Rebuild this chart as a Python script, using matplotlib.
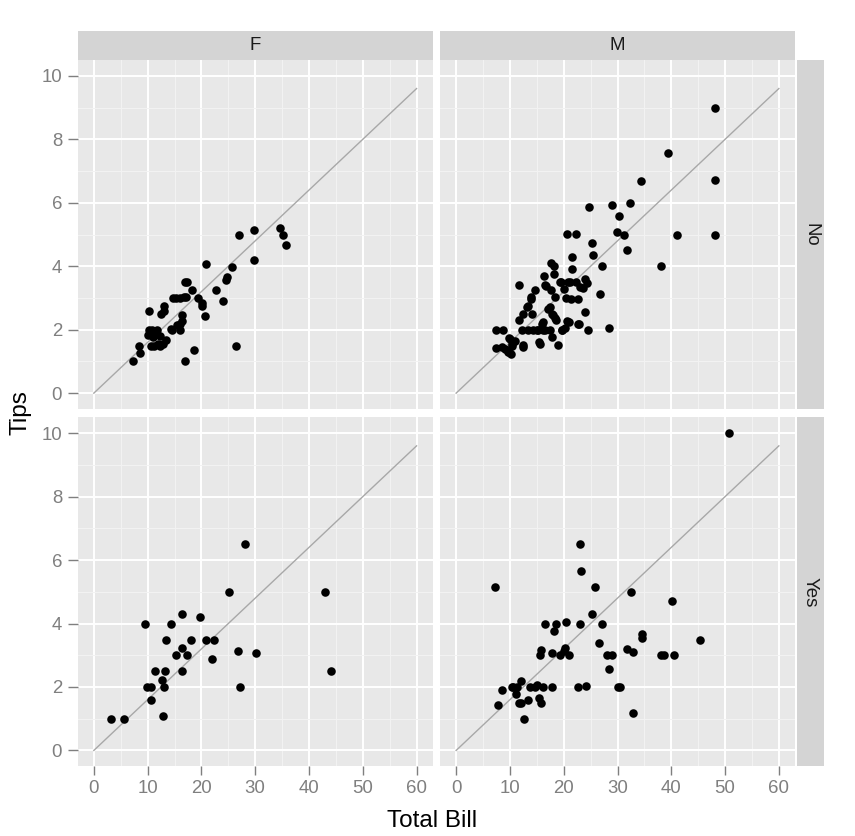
import matplotlib
matplotlib.use("Agg")
import matplotlib.pyplot as plt
import numpy as np

plt.rcParams['font.family'] = ['Liberation Sans', 'DejaVu Sans']

# tips: total bill / tip, per sex (column) and smoker (row)
f_no_bill = [7.25, 8.51, 8.35, 10.29, 10.07, 10.33, 10.80, 11.70, 10.65, 11.17, 11.87, 11.00,
             12.26, 13.42, 12.54, 13.13, 14.26, 14.52, 15.38, 16.04, 16.31, 16.43, 16.04, 14.78,
             15.36, 16.00, 16.80, 17.20, 16.97, 17.31, 18.20, 19.40, 20.10, 20.20, 20.60, 16.99,
             18.64, 20.80, 22.70, 24.00, 24.50, 24.70, 25.60, 26.41, 27.00, 29.70, 29.70, 34.60,
             35.10, 35.70, 13.00, 12.30, 11.50, 12.90]
f_no_tip = [1.00, 1.25, 1.50, 2.60, 1.83, 2.00, 1.98, 2.00, 1.50, 1.50, 1.56, 1.77,
            1.80, 1.66, 2.50, 2.75, 2.03, 2.00, 2.14, 2.19, 2.27, 2.45, 2.00, 3.00,
            3.00, 3.00, 3.03, 3.03, 3.50, 3.50, 3.25, 3.00, 2.85, 2.74, 2.43, 1.01,
            1.36, 4.06, 3.24, 2.90, 3.58, 3.66, 3.98, 1.50, 5.00, 5.14, 4.19, 5.19,
            5.00, 4.66, 2.60, 1.50, 1.85, 1.56]

m_no_bill = [24.7, 28.9, 32.3, 30.3, 29.9, 31.2, 20.6, 22.2, 25.2, 25.5, 31.7, 21.6,
             21.5, 27.1, 17.7, 18.2, 18.2, 16.3, 11.6, 14.7, 14.0, 13.9, 16.7, 17.7,
             18.4, 19.5, 20.8, 22.3, 23.9, 24.4, 20.0, 20.4, 21.3, 22.7, 23.6, 26.8,
             13.2, 12.5, 14.1, 11.7, 17.1, 18.1, 18.4, 16.1, 20.7, 23.9, 22.9, 24.6,
             28.4, 7.4, 8.8, 12.2, 13.4, 15.0, 16.2, 15.9, 19.7, 20.3, 9.9, 10.9,
             10.3, 9.8, 10.2, 7.5, 8.5, 12.5, 15.4, 17.8, 19.0, 48.2, 39.3, 34.3,
             48.2, 41.1, 48.1, 38.0, 16.5, 19.3, 21.2, 23.1, 14.3, 15.3, 16.5, 17.4,
             19.6, 10.0, 10.4, 9.1, 9.7, 12.4, 15.5, 17.5, 17.9, 18.6, 13.4, 20.9,
             22.7]
m_no_tip = [5.87, 5.92, 6.00, 5.59, 5.08, 5.00, 5.01, 5.01, 4.73, 4.35, 4.50, 4.30,
            3.90, 4.00, 4.10, 4.00, 3.77, 3.70, 3.40, 3.26, 3.03, 2.98, 3.39, 3.26,
            3.02, 3.50, 3.50, 3.50, 3.60, 3.47, 3.27, 3.00, 2.98, 2.98, 3.30, 3.12,
            2.72, 2.50, 2.50, 2.32, 2.65, 2.47, 2.37, 2.24, 2.26, 2.55, 2.19, 2.00,
            2.05, 2.00, 2.00, 2.00, 2.00, 2.00, 2.00, 2.19, 2.00, 2.05, 1.74, 1.64,
            1.48, 1.31, 1.23, 1.43, 1.45, 1.52, 1.60, 1.78, 1.52, 9.00, 7.58, 6.70,
            6.72, 5.00, 5.00, 4.00, 3.40, 3.50, 3.50, 3.35, 2.00, 2.00, 2.00, 2.00,
            2.00, 1.72, 1.56, 1.40, 1.29, 1.45, 1.56, 2.70, 2.50, 2.30, 2.74, 2.24,
            2.17]

f_yes_bill = [28.1, 25.2, 43.0, 44.1, 16.3, 19.8, 9.6, 14.3, 13.4, 18.1, 20.8, 22.4,
              16.4, 15.3, 17.4, 22.0, 26.8, 30.1, 11.4, 13.2, 16.4, 12.7, 9.9, 10.6,
              13.0, 27.1, 10.6, 12.8, 3.1, 5.7]
f_yes_tip = [6.50, 5.00, 5.00, 2.50, 4.30, 4.19, 4.00, 4.00, 3.49, 3.49, 3.49, 3.49,
             3.23, 3.00, 3.00, 2.88, 3.14, 3.08, 2.50, 2.50, 2.50, 2.23, 2.00, 2.00,
             2.00, 2.00, 1.60, 1.08, 1.00, 1.00]

m_yes_bill = [23.1, 23.3, 7.2, 25.8, 32.6, 25.2, 16.6, 18.6, 20.5, 23.1, 27.2, 18.2,
              26.5, 20.2, 20.0, 15.7, 15.5, 17.9, 19.4, 21.0, 28.1, 29.0, 28.4, 31.8,
              32.9, 34.6, 34.6, 12.1, 8.5, 10.3, 11.3, 13.7, 15.0, 16.1, 17.9, 22.6,
              24.2, 30.1, 30.5, 11.1, 11.6, 12.1, 13.4, 15.4, 15.7, 7.7, 12.6, 32.8,
              50.7, 40.1, 45.3, 38.0, 38.7, 40.5, 14.6, 10.6]
m_yes_tip = [6.50, 5.66, 5.16, 5.16, 5.00, 4.30, 4.00, 4.00, 4.05, 4.00, 4.00, 3.76,
             3.40, 3.23, 3.14, 3.16, 3.00, 3.07, 3.00, 3.00, 3.00, 3.00, 2.56, 3.19,
             3.10, 3.66, 3.53, 2.20, 1.92, 2.00, 2.00, 2.00, 2.07, 2.00, 2.00, 2.00,
             2.03, 2.00, 2.00, 1.79, 1.50, 1.50, 1.58, 1.65, 1.50, 1.44, 0.98, 1.18,
             10.00, 4.72, 3.48, 3.00, 3.00, 3.00, 2.00, 2.00]

sex_labels = ["F", "M"]
smoker_labels = ["No", "Yes"]
line_x = [0, 60]
slope = 0.16

panels = {
    (0, 0): (f_no_bill, f_no_tip),
    (0, 1): (m_no_bill, m_no_tip),
    (1, 0): (f_yes_bill, f_yes_tip),
    (1, 1): (m_yes_bill, m_yes_tip),
}

W, H = 855, 836
fig = plt.figure(figsize=(W / 100, H / 100), dpi=100)

col_left = [77.7, 440.0]
col_w = 355.0
row_top = [60.0, 417.3]
row_h = 349.0

gray_txt = '#7F7F7F'

for (r, c), (bx, by) in panels.items():
    ax = fig.add_axes([col_left[c] / W, (H - row_top[r] - row_h) / H, col_w / W, row_h / H])
    ax.set_facecolor('#E8E8E8')
    ax.set_xlim(-3, 63)
    ax.set_ylim(-0.5, 10.5)
    ax.set_xticks(np.arange(0, 61, 10))
    ax.set_xticks(np.arange(5, 60, 10), minor=True)
    ax.set_yticks(np.arange(0, 11, 2))
    ax.set_yticks(np.arange(1, 10, 2), minor=True)
    ax.grid(which='major', color='white', lw=1.4)
    ax.grid(which='minor', color='#F3F3F3', lw=0.7)
    ax.set_axisbelow(True)
    for s in ax.spines.values():
        s.set_visible(False)
    ax.tick_params(which='minor', length=0)
    ax.tick_params(which='major', colors=gray_txt, labelcolor=gray_txt, labelsize=13.4,
                   width=1.0)
    ax.tick_params(axis='x', length=6.8, pad=2.8)
    ax.tick_params(axis='y', length=7.0, pad=4.3)
    if r == 0:
        ax.tick_params(axis='x', bottom=False, labelbottom=False)
    if c == 1:
        ax.tick_params(axis='y', left=False, labelleft=False)

    ax.plot(line_x, [v * slope for v in line_x], color='#A8A8A8', lw=1.0, zorder=2)
    ax.scatter(bx, by, s=38, color='black', linewidths=0, zorder=3)

# strips
for c, lab in enumerate(sex_labels):
    sax = fig.add_axes([col_left[c] / W, (H - 60) / H, col_w / W, 29 / H])
    sax.set_facecolor('#D4D4D4')
    sax.set_xticks([])
    sax.set_yticks([])
    for s in sax.spines.values():
        s.set_visible(False)
    sax.text(0.5, 0.5, lab, ha='center', va='center', fontsize=13.4, color='#1A1A1A',
             transform=sax.transAxes)

for r, lab in enumerate(smoker_labels):
    sax = fig.add_axes([797 / W, (H - row_top[r] - row_h) / H, 27 / W, row_h / H])
    sax.set_facecolor('#D4D4D4')
    sax.set_xticks([])
    sax.set_yticks([])
    for s in sax.spines.values():
        s.set_visible(False)
    sax.text(0.5, 0.5, lab, ha='center', va='center', rotation=-90, fontsize=13.4,
             color='#1A1A1A', transform=sax.transAxes)

fig.text(432 / W, (H - 826.7) / H, 'Total Bill', ha='center', va='baseline', fontsize=17.5)
fig.text(20 / W, (H - 413) / H, 'Tips', ha='center', va='center', rotation=90, fontsize=17.5)

fig.savefig('out.png', dpi=100)
